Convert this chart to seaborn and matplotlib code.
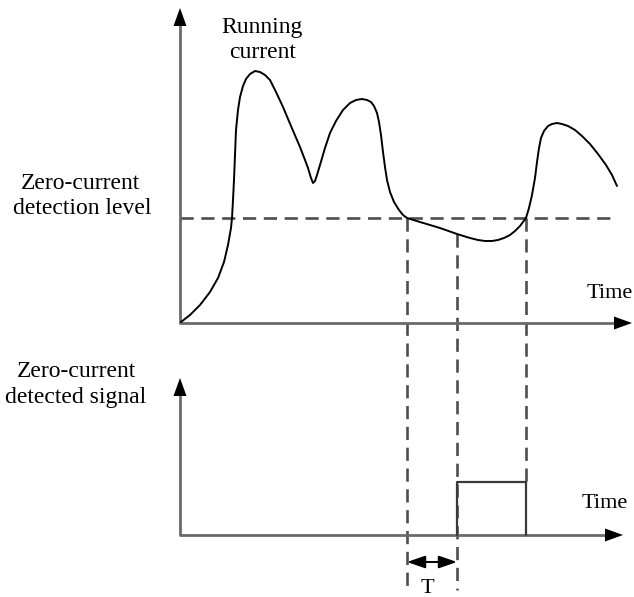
import matplotlib
matplotlib.use("Agg")
import matplotlib.pyplot as plt
import seaborn as sns

sns.set_theme(style="white")
plt.rcParams["font.family"] = ["Liberation Serif", "DejaVu Serif"]
plt.rcParams["lines.scale_dashes"] = False

# Running current trace (time, level) in drawing units, y grows downward
time_pts = [181, 190, 200, 210, 218, 224, 228, 231, 232, 233, 234, 235, 236, 238,
            240, 243, 246, 250, 255, 260, 265, 270, 276, 283, 291, 300, 305, 308,
            311, 313, 315, 317, 320, 325, 330, 336, 343, 350, 356, 362, 367, 371,
            374, 377, 379, 381, 383, 385, 387, 390, 394, 399, 403, 407, 420, 440,
            457, 470, 478, 485, 492, 498, 504, 510, 515, 520, 523, 526, 529, 532,
            535, 537, 539, 541, 544, 548, 552, 557, 562, 568, 575, 582, 590, 598,
            606, 612, 617]
current_pts = [322, 315, 305, 292, 278, 262, 245, 228, 218, 200, 180, 155, 130, 110,
               97, 86, 79, 74, 71, 72, 75, 80, 92, 107, 126, 147, 160, 168,
               178, 183, 181, 175, 165, 148, 133, 121, 110, 103, 100, 99, 100, 102,
               106, 113, 122, 135, 152, 167, 180, 192, 202, 210, 215, 218, 222, 228,
               234, 238, 240, 241, 241, 240, 238, 235, 231, 226, 222, 218, 208, 195,
               178, 162, 148, 138, 131, 126, 124, 123, 124, 126, 130, 136, 144, 154,
               165, 175, 186]

DETECT_LEVEL = 218          # zero-current detection level
T_CROSS_DOWN = 407          # current falls below the level
DELAY_T = 50                # detection delay T
T_CROSS_UP = 526            # current rises back above the level

# Detected signal (time, logic value)
signal_t = [T_CROSS_DOWN + DELAY_T, T_CROSS_DOWN + DELAY_T, T_CROSS_UP, T_CROSS_UP]
signal_v = [0, 1, 1, 0]

ORIGIN_X = 180
TOP_BASE = 323
BOT_BASE = 535
PULSE_H = 53

fig = plt.figure(figsize=(6.34, 5.97), dpi=100)
ax = fig.add_axes([0, 0, 1, 1])
ax.set_xlim(0, 634)
ax.set_ylim(597, 0)
ax.axis("off")

AXIS_C = "#6a6a6a"
DASH_C = "#4e4e4e"


def axis_arrow(x0, y0, x1, y1, head_len=18, head_half=6.5):
    dx, dy = x1 - x0, y1 - y0
    n = (dx ** 2 + dy ** 2) ** 0.5
    ux, uy = dx / n, dy / n
    bx, by = x1 - ux * head_len, y1 - uy * head_len
    ax.plot([x0, bx + ux * 2], [y0, by + uy * 2], color=AXIS_C, lw=2.0,
            solid_capstyle="butt", zorder=2)
    px, py = -uy, ux
    ax.fill([x1, bx + px * head_half, bx - px * head_half],
            [y1, by + py * head_half, by - py * head_half],
            color="black", lw=0, zorder=3)


# axes of both panels
axis_arrow(ORIGIN_X, TOP_BASE + 1, ORIGIN_X, 8)
axis_arrow(ORIGIN_X, TOP_BASE, 632, TOP_BASE)
axis_arrow(ORIGIN_X, BOT_BASE + 1, ORIGIN_X, 378)
axis_arrow(ORIGIN_X, BOT_BASE, 623, BOT_BASE)

# detection level
dash = (0, (9.5, 5.5))
DLW = 1.9
ax.plot([ORIGIN_X, 617], [DETECT_LEVEL, DETECT_LEVEL], color=DASH_C, lw=DLW,
        ls=dash, zorder=1)

# projections from the trace down to the signal panel
pulse_top = BOT_BASE - PULSE_H
ax.plot([T_CROSS_DOWN, T_CROSS_DOWN], [DETECT_LEVEL, 590], color=DASH_C, lw=DLW,
        ls=dash, zorder=1)
ax.plot([T_CROSS_DOWN + DELAY_T] * 2, [234, 590], color=DASH_C, lw=DLW,
        ls=dash, zorder=1)
ax.plot([T_CROSS_UP, T_CROSS_UP], [DETECT_LEVEL, pulse_top], color=DASH_C, lw=DLW,
        ls=dash, zorder=1)

# running current
sns.lineplot(x=time_pts, y=current_pts, sort=False, estimator=None,
             color="black", lw=1.4, ax=ax, zorder=4,
             solid_joinstyle="round", solid_capstyle="round")

# detected signal pulse
sig_y = [BOT_BASE - v * PULSE_H for v in signal_v]
sns.lineplot(x=signal_t, y=sig_y, sort=False, estimator=None,
             color="#3a3a3a", lw=1.6, ax=ax, zorder=4)

# delay T
ax.annotate("", xy=(T_CROSS_DOWN, 562), xytext=(T_CROSS_DOWN + DELAY_T, 562),
            arrowprops=dict(arrowstyle="<|-|>,head_length=1.1,head_width=0.38",
                            color="black", lw=1.4, shrinkA=0, shrinkB=0,
                            mutation_scale=10))

kw = dict(ha="center", va="baseline", color="black")
ax.text(262, 33, "Running", fontsize=17, **kw)
ax.text(263, 58, "current", fontsize=17, **kw)
ax.text(80, 189, "Zero-current", fontsize=17, **kw)
ax.text(82, 214, "detection level", fontsize=17, **kw)
ax.text(76, 377, "Zero-current", fontsize=17, **kw)
ax.text(76, 403, "detected signal", fontsize=17, **kw)
ax.text(610, 298, "Time", fontsize=16, **kw)
ax.text(605, 508, "Time", fontsize=16, **kw)
ax.text(427, 593, "T", fontsize=16, **kw)

fig.savefig("out.png", dpi=100)
